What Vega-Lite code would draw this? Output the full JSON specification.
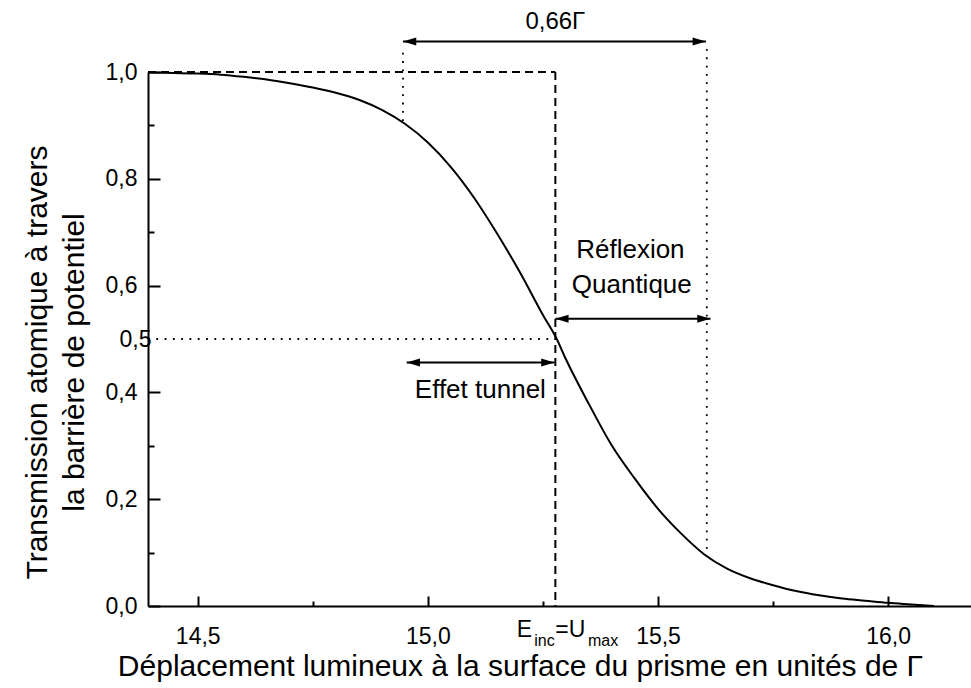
{
  "$schema": "https://vega.github.io/schema/vega-lite/v6.json",
  "width": 823,
  "height": 534,
  "autosize": {"type": "none"},
  "padding": {"left": 148, "top": 72, "right": 0, "bottom": 82},
  "background": "white",
  "config": {
    "view": {"stroke": null},
    "font": "Liberation Sans",
    "locale": {"number": {"decimal": ",", "thousands": ".", "grouping": [3], "currency": ["", " €"]}},
    "axis": {"grid": false, "domainColor": "black", "domainWidth": 2, "tickColor": "black", "labelColor": "black", "titleColor": "black", "labelFont": "Liberation Sans", "titleFont": "Liberation Sans", "titleFontWeight": "normal"}
  },
  "datasets": {
    "curve": [
      {"x": 14.392, "y": 0.999}, {"x": 14.45, "y": 0.998}, {"x": 14.5, "y": 0.997}, {"x": 14.55, "y": 0.995},
      {"x": 14.6, "y": 0.991}, {"x": 14.65, "y": 0.986}, {"x": 14.7, "y": 0.979}, {"x": 14.75, "y": 0.971},
      {"x": 14.8, "y": 0.961}, {"x": 14.85, "y": 0.948}, {"x": 14.9, "y": 0.929}, {"x": 14.95, "y": 0.903},
      {"x": 15.0, "y": 0.868}, {"x": 15.05, "y": 0.822}, {"x": 15.1, "y": 0.765}, {"x": 15.15, "y": 0.698},
      {"x": 15.2, "y": 0.625}, {"x": 15.25, "y": 0.545}, {"x": 15.28, "y": 0.5}, {"x": 15.3, "y": 0.462},
      {"x": 15.35, "y": 0.378}, {"x": 15.4, "y": 0.3}, {"x": 15.45, "y": 0.238}, {"x": 15.5, "y": 0.182},
      {"x": 15.55, "y": 0.136}, {"x": 15.6, "y": 0.097}, {"x": 15.65, "y": 0.07}, {"x": 15.7, "y": 0.052},
      {"x": 15.75, "y": 0.039}, {"x": 15.8, "y": 0.028}, {"x": 15.85, "y": 0.02}, {"x": 15.9, "y": 0.014},
      {"x": 15.95, "y": 0.01}, {"x": 16.0, "y": 0.006}, {"x": 16.05, "y": 0.003}, {"x": 16.1, "y": 0.0}
    ],
    "dashed": [
      {"x": 14.392, "y": 1.0, "x2": 15.277, "y2": 1.0},
      {"x": 15.277, "y": 1.0, "x2": 15.277, "y2": 0.0}
    ],
    "dotted": [
      {"x": 14.946, "y": 1.036, "x2": 14.946, "y2": 0.903},
      {"x": 15.606, "y": 1.043, "x2": 15.606, "y2": 0.097},
      {"x": 14.392, "y": 0.5, "x2": 15.277, "y2": 0.5}
    ],
    "arrows": [
      {"x": 14.946, "y": 1.057, "x2": 15.604, "y2": 1.057},
      {"x": 15.277, "y": 0.538, "x2": 15.614, "y2": 0.538},
      {"x": 14.954, "y": 0.456, "x2": 15.275, "y2": 0.456}
    ],
    "headsLeft": [
      {"x": 14.946, "y": 1.057}, {"x": 15.277, "y": 0.538}, {"x": 14.954, "y": 0.456}
    ],
    "headsRight": [
      {"x": 15.604, "y": 1.057}, {"x": 15.614, "y": 0.538}, {"x": 15.275, "y": 0.456}
    ],
    "notes": [
      {"x": 15.44, "y": 0.666, "label": "Réflexion"},
      {"x": 15.443, "y": 0.601, "label": "Quantique"},
      {"x": 15.114, "y": 0.404, "label": "Effet tunnel"}
    ],
    "topnote": [
      {"x": 15.277, "y": 1.094, "label": "0,66Γ"}
    ],
    "bigLetters": [
      {"x": 15.193, "y": -0.0587, "label": "E"},
      {"x": 15.277, "y": -0.0587, "label": "=U"}
    ],
    "subs": [
      {"x": 15.231, "y": -0.0756, "label": "inc"},
      {"x": 15.348, "y": -0.0756, "label": "max"}
    ]
  },
  "encoding": {
    "x": {
      "field": "x", "type": "quantitative",
      "scale": {"domain": [14.392, 16.18], "nice": false, "zero": false},
      "axis": {
        "title": "Déplacement lumineux à la surface du prisme en unités de Γ",
        "titleFontSize": 30, "titleX": 372, "titleY": 69, "titleBaseline": "alphabetic", "titleAlign": "center", "titleAnchor": null,
        "values": [14.5, 14.75, 15, 15.25, 15.5, 15.75, 16],
        "format": ".1f",
        "labelExpr": "datum.value % 0.5 == 0 ? datum.label : ''",
        "labelFontSize": 23, "labelPadding": 29,
        "tickSize": {"condition": {"test": "datum.value % 0.5 == 0", "value": -10}, "value": -5},
        "tickWidth": 2
      }
    },
    "y": {
      "field": "y", "type": "quantitative",
      "scale": {"domain": [0, 1], "nice": false, "zero": false},
      "axis": {
        "title": ["Transmission atomique à travers", "la barrière de potentiel"],
        "titleFontSize": 30, "titleLineHeight": 37, "titleX": -96, "titleY": 290, "titleBaseline": "bottom", "titleAnchor": null,
        "values": [0, 0.1, 0.2, 0.3, 0.4, 0.5, 0.6, 0.7, 0.8, 0.9, 1],
        "format": ".1f",
        "labelExpr": "indexof([0, 0.2, 0.4, 0.5, 0.6, 0.8, 1], datum.value) >= 0 ? datum.label : ''",
        "labelFontSize": 23,
        "labelPadding": {"condition": {"test": "datum.value == 0.5", "value": 3}, "value": 23},
        "tickSize": {"condition": {"test": "indexof([0, 0.2, 0.4, 0.6, 0.8, 1], datum.value) >= 0", "value": -12}, "value": -6},
        "tickOpacity": {"condition": {"test": "datum.value == 0.5", "value": 0}, "value": 1},
        "tickWidth": 2
      }
    }
  },
  "layer": [
    {"data": {"name": "dotted"}, "mark": {"type": "rule", "color": "black", "strokeWidth": 1.8, "strokeDash": [1.8, 6.5]},
     "encoding": {"x2": {"field": "x2"}, "y2": {"field": "y2"}}},
    {"data": {"name": "dashed"}, "mark": {"type": "rule", "color": "black", "strokeWidth": 2, "strokeDash": [8, 5]},
     "encoding": {"x2": {"field": "x2"}, "y2": {"field": "y2"}}},
    {"data": {"name": "curve"}, "mark": {"type": "line", "color": "black", "strokeWidth": 2, "interpolate": "monotone"}},
    {"data": {"name": "arrows"}, "mark": {"type": "rule", "color": "black", "strokeWidth": 2},
     "encoding": {"x2": {"field": "x2"}, "y2": {"field": "y2"}}},
    {"data": {"name": "headsLeft"}, "mark": {"type": "point", "shape": "M0,0L1,-0.3L1,0.3Z", "filled": true, "color": "black", "size": 700, "opacity": 1, "strokeWidth": 0}},
    {"data": {"name": "headsRight"}, "mark": {"type": "point", "shape": "M0,0L-1,-0.3L-1,0.3Z", "filled": true, "color": "black", "size": 700, "opacity": 1, "strokeWidth": 0}},
    {"data": {"name": "notes"}, "mark": {"type": "text", "fontSize": 26, "color": "black", "align": "center", "baseline": "middle", "font": "Liberation Sans"},
     "encoding": {"text": {"field": "label"}}},
    {"data": {"name": "topnote"}, "mark": {"type": "text", "fontSize": 24, "color": "black", "align": "center", "baseline": "middle", "font": "Liberation Sans"},
     "encoding": {"text": {"field": "label"}}},
    {"data": {"name": "bigLetters"}, "mark": {"type": "text", "fontSize": 23, "color": "black", "align": "left", "baseline": "alphabetic", "font": "Liberation Sans"},
     "encoding": {"text": {"field": "label"}}},
    {"data": {"name": "subs"}, "mark": {"type": "text", "fontSize": 16, "color": "black", "align": "left", "baseline": "alphabetic", "font": "Liberation Sans"},
     "encoding": {"text": {"field": "label"}}}
  ]
}
